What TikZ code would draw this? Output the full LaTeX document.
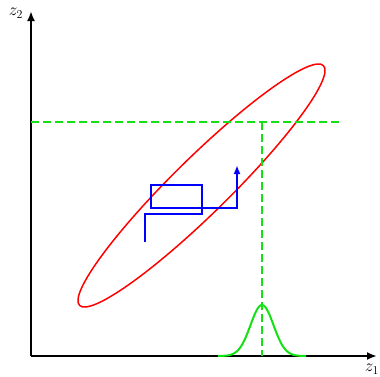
\documentclass[tikz,border=0pt]{standalone}
\usetikzlibrary{arrows.meta}
\definecolor{brightgreen}{RGB}{20,225,20}
\begin{document}
\begin{tikzpicture}[x=1pt,y=-1pt,
  axis/.style={line width=2.2pt,-{Latex[length=10pt,width=8pt]}},
  guide/.style={brightgreen,line width=1.6pt,dash pattern=on 8pt off 4pt},
  lbl/.style={font=\fontsize{18}{20}\selectfont,inner sep=0pt}]
\useasboundingbox (0,0) rectangle (380,376);
\coordinate (O) at (31,356);
\coordinate (Y) at (31,11);
\coordinate (X) at (377,356);
\draw[axis] (O) -- (Y);
\draw[axis] (O) -- (X);
\node[lbl] (z2) at (16,13) {$z_2$};
\node[lbl] (z1) at (372,369) {$z_1$};
% ellipse
\draw[red,line width=1.5pt,rotate around={44.5:(201.5,185.5)}] (201.5,185.5) ellipse (171 and 28);
% guides
\coordinate (H0) at (31,122);
\coordinate (H1) at (342,122);
\coordinate (V0) at (262,122);
\coordinate (V1) at (262,356);
\draw[guide] (H0) -- (H1);
\draw[guide] (V0) -- (V1);
% gaussian
\draw[brightgreen,line width=2pt,domain=218:306,samples=80]
  plot (\x,{356-51*exp(-((\x-262)/11.5)^2/2)});
% blue path
\draw[blue,line width=2pt,-{Latex[length=9pt,width=7pt]}]
  (145,242) -- (145,214) -- (202,214) -- (202,185) -- (151,185) -- (151,208) -- (237,208) -- (237,165);
\end{tikzpicture}
\end{document}
